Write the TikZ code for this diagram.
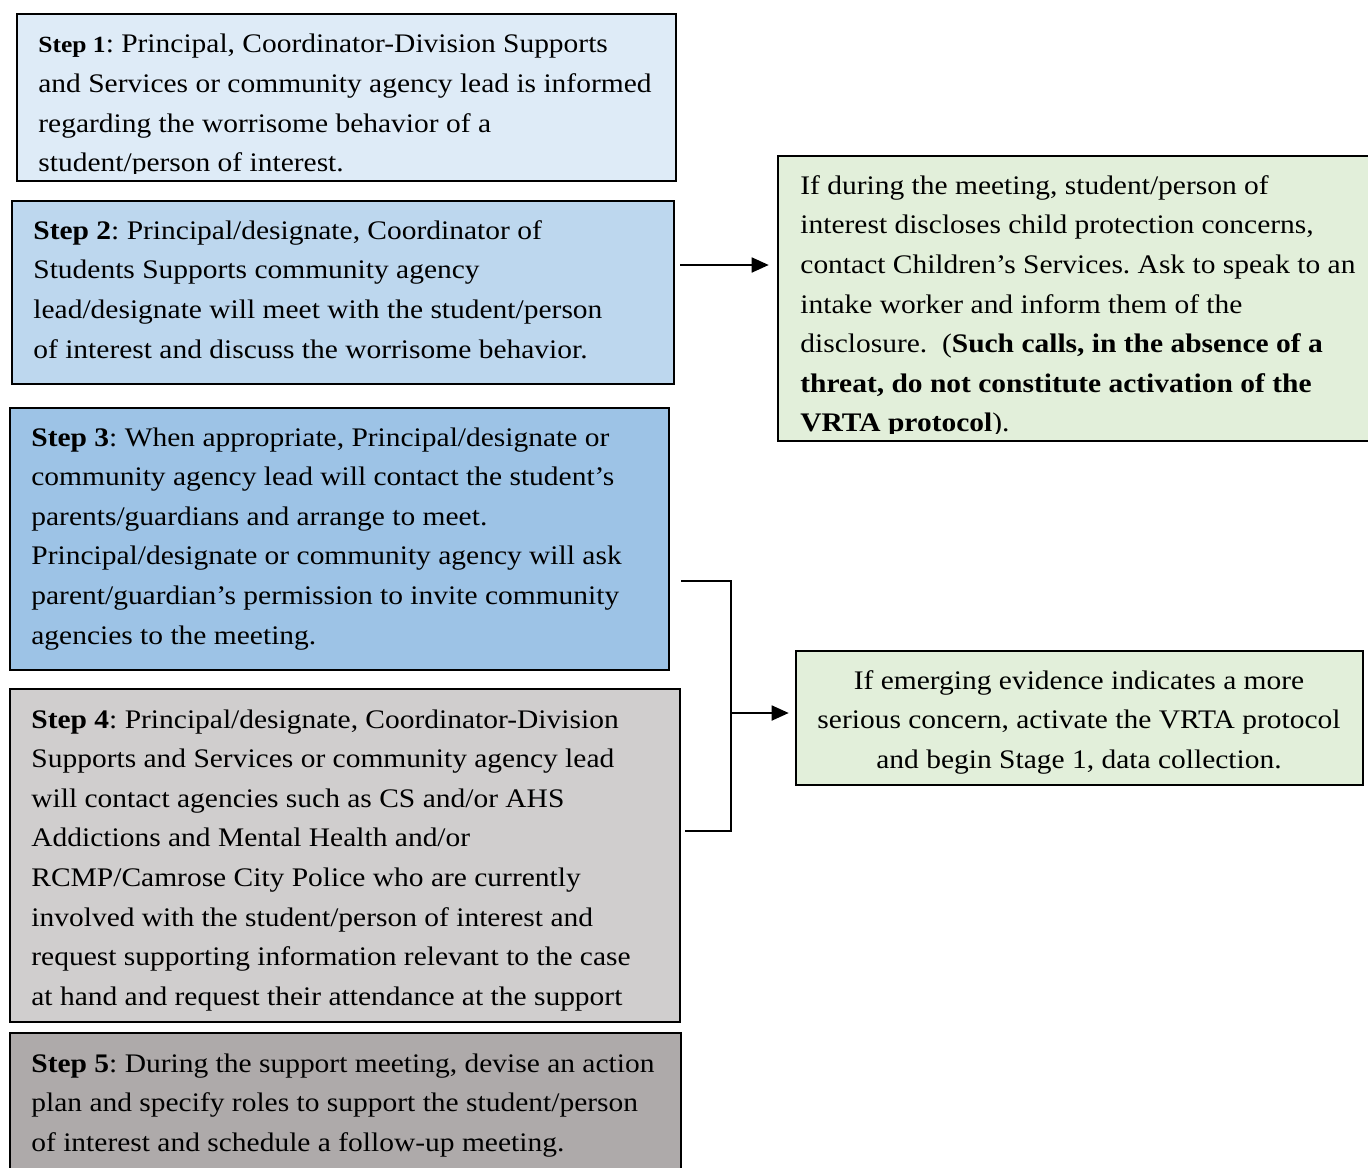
\documentclass[tikz,border=0pt]{standalone}
\usepackage{fontspec}
\setmainfont[FakeStretch=1.1]{Liberation Serif}
\usetikzlibrary{arrows.meta,fit}
\definecolor{cbA}{HTML}{DEEBF7}
\definecolor{cbB}{HTML}{BDD7EE}
\definecolor{cbC}{HTML}{9DC3E6}
\definecolor{cgA}{HTML}{D0CECE}
\definecolor{cgB}{HTML}{AEAAAA}
\definecolor{cgr}{HTML}{E2EFDA}
\tikzset{
  box/.style={draw=black, line width=1.3pt, inner sep=0pt},
  txt/.style={inner sep=0pt, anchor=north west, align=left, font=\fontsize{13.4}{19.8}\selectfont},
  ctxt/.style={txt, anchor=north, align=center},
  conn/.style={line width=0.9pt},
  arr/.style={conn, -{Triangle[length=8.5pt,width=7.5pt]}},
}
\frenchspacing
\begin{document}
\frenchspacing
\begin{tikzpicture}[x=0.5pt,y=-0.5pt]
\useasboundingbox (0,0) rectangle (1368,1167);
% boxes
\node[box, fill=cbA, fit={(17,14) (676,181)}] (s1) {};
\node[box, fill=cbB, fit={(12,201) (674,384)}] (s2) {};
\node[box, fill=cbC, fit={(10,408) (669,670)}] (s3) {};
\node[box, fill=cgA, fit={(10,689) (680,1022)}] (s4) {};
\node[box, fill=cgB, fit={(10,1033) (681,1190)}] (s5) {};
\node[box, fill=cgr, fit={(778,156) (1385,441)}] (r1) {};
\node[box, fill=cgr, fit={(796,651) (1363,785)}] (r2) {};
% texts
\begin{scope}
\clip (17,14) rectangle (676,173);
\node[txt] (t1) at (38,34) {{\fontsize{11.6}{19.8}\selectfont\bfseries Step 1}: Principal, Coordinator-Division Supports\\
and Services or community agency lead is informed\\
regarding the worrisome behavior of a\\
student/person of interest.};
\end{scope}
\node[txt] (t2) at (33,220) {\textbf{Step 2}: Principal/designate, Coordinator of\\
Students Supports community agency\\
lead/designate will meet with the student/person\\
of interest and discuss the worrisome behavior.};
\node[txt] (t3) at (31,427) {\textbf{Step 3}: When appropriate, Principal/designate or\\
community agency lead will contact the student’s\\
parents/guardians and arrange to meet.\\
Principal/designate or community agency will ask\\
parent/guardian’s permission to invite community\\
agencies to the meeting.};
\node[txt] (t4) at (31,709) {\textbf{Step 4}: Principal/designate, Coordinator-Division\\
Supports and Services or community agency lead\\
will contact agencies such as CS and/or AHS\\
Addictions and Mental Health and/or\\
RCMP/Camrose City Police who are currently\\
involved with the student/person of interest and\\
request supporting information relevant to the case\\
at hand and request their attendance at the support};
\node[txt] (t5) at (31,1053) {\textbf{Step 5}: During the support meeting, devise an action\\
plan and specify roles to support the student/person\\
of interest and schedule a follow-up meeting.};
\begin{scope}
\clip (778,156) rectangle (1368,433);
\node[txt] (t6) at (800,175) {If during the meeting, student/person of\\
interest discloses child protection concerns,\\
contact Children’s Services. Ask to speak to an\\
intake worker and inform them of the\\
disclosure.\ \ (\textbf{Such calls, in the absence of a}\\
\textbf{threat, do not constitute activation of the}\\
\textbf{VRTA protocol}).};
\end{scope}
\node[ctxt] (t7) at (1079,670) {If emerging evidence indicates a more\\
serious concern, activate the VRTA protocol\\
and begin Stage 1, data collection.};
% connectors
\coordinate (a1) at (680,265);
\draw[arr, shorten >=4pt] (a1) -- (a1 -| r1.west);
\coordinate (b1) at (681,581);
\coordinate (b2) at (685,831);
\coordinate (bm) at (731,713);
\draw[conn] (b1) -| (bm |- b2) -- (b2);
\draw[arr, shorten >=3pt] (bm) -- (bm -| r2.west);
\end{tikzpicture}
\end{document}
